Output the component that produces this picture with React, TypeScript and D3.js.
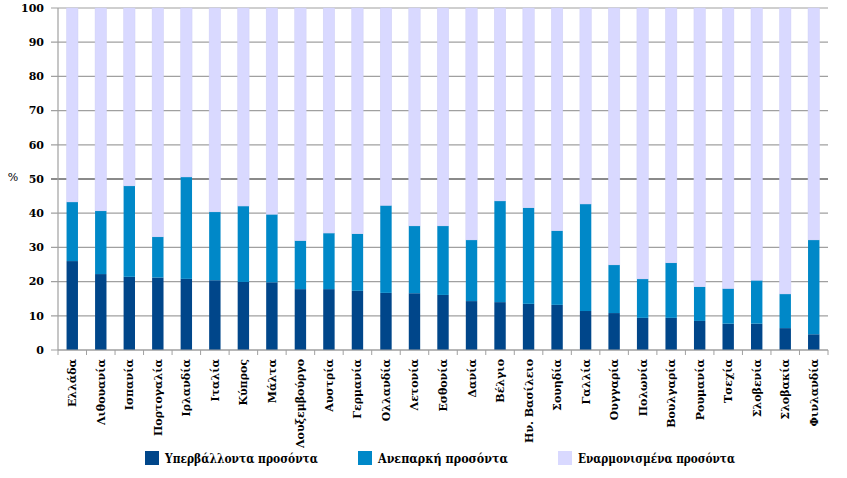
import React from "react";
import * as d3 from "d3";

const countries = ["Ελλάδα","Λιθουανία","Ισπανία","Πορτογαλία","Ιρλανδία","Ιταλία","Κύπρος","Μάλτα","Λουξεμβούργο","Αυστρία","Γερμανία","Ολλανδία","Λετονία","Εσθονία","Δανία","Βέλγιο","Ην. Βασίλειο","Σουηδία","Γαλλία","Ουγγαρία","Πολωνία","Βουλγαρία","Ρουμανία","Τσεχία","Σλοβενία","Σλοβακία","Φινλανδία"];
const overQualified = [26.0,22.2,21.4,21.2,20.8,20.4,19.9,19.8,17.8,17.8,17.3,16.7,16.6,16.1,14.3,14.0,13.5,13.2,11.4,10.8,9.4,9.4,8.5,7.7,7.7,6.4,4.6];
const underQualified = [17.3,18.5,26.6,11.9,29.8,20.0,22.2,19.9,14.2,16.4,16.7,25.6,19.7,20.2,17.9,29.6,28.1,21.7,31.3,14.1,11.4,16.1,10.0,10.3,12.7,10.0,27.6];
const matched = overQualified.map((o, i) => 100 - o - underQualified[i]);
const seriesNames = ["Υπερβάλλοντα προσόντα","Ανεπαρκή προσόντα","Εναρμονισμένα προσόντα"];
const seriesColors = ["#00468A","#0088C8","#D9D9FF"];
const yTicks = [0,10,20,30,40,50,60,70,80,90,100];

const FONT = "'DejaVu Serif', 'Liberation Serif', 'Times New Roman', serif";

export default function App() {
  const W = 847, H = 478;
  const left = 58, right = 828, top = 8, bottom = 350;
  const x = d3.scaleBand<string>().domain(countries).range([left, right]).paddingInner(0.6).paddingOuter(0.3);
  const xb = d3.scaleBand<string>().domain(countries).range([left, right]);
  const y = d3.scaleLinear().domain([0, 100]).range([bottom, top]);
  const data = countries.map((c, i) => ({ c, v: [overQualified[i], underQualified[i], matched[i]] }));
  const stack = d3.stack<any>().keys(["0","1","2"]).value((d, k) => d.v[+k]);
  const stacked = stack(data);
  const ts = (size: number): React.CSSProperties => ({ fontFamily: FONT, fontSize: size, fontWeight: 700 });
  const legendX = [145, 358, 558];
  const legendW = [153, 130, 157];
  return (
    <svg width={W} height={H} style={{ position: "absolute", left: 0, top: 0, background: "#fff" }}>
      {yTicks.map(t => (
        <g key={t}>
          <line x1={51} x2={right} y1={y(t)} y2={y(t)} stroke={t === 50 ? "#8a8a8a" : "#a0a0a0"} strokeWidth={t === 50 ? 2 : 1.2} />
          <text x={44} y={y(t)} dy="0.35em" textAnchor="end" style={ts(11)}>{t}</text>
        </g>
      ))}
      <text x={13} y={181} textAnchor="middle" style={{ fontFamily: FONT, fontSize: 11 }}>%</text>
      {stacked.map((s, si) => (
        <g key={si}>
          {s.map((d, i) => (
            <rect key={i} x={x(countries[i])!} width={x.bandwidth()} y={y(d[1])} height={y(d[0]) - y(d[1])} fill={seriesColors[si]} stroke={si === 2 ? "#cfd0f5" : "none"} strokeWidth={0.5} />
          ))}
        </g>
      ))}
      <line x1={left} x2={left} y1={top} y2={bottom} stroke="#a0a0a0" strokeWidth={1.2} />
      <line x1={left} x2={right} y1={bottom} y2={bottom} stroke="#a0a0a0" strokeWidth={1.2} />
      {countries.map((c, i) => (
        <line key={"t" + i} x1={xb(c)!} x2={xb(c)!} y1={bottom} y2={bottom + 5} stroke="#a0a0a0" />
      ))}
      <line x1={right} x2={right} y1={bottom} y2={bottom + 5} stroke="#a0a0a0" />
      {countries.map((c) => {
        const cx = x(c)! + x.bandwidth() / 2;
        return (
          <text key={"l" + c} transform={`translate(${cx + 4},${359}) rotate(-90)`} textAnchor="end" style={ts(11)}>{c}</text>
        );
      })}
      {seriesNames.map((n, i) => (
        <g key={n}>
          <rect x={legendX[i]} y={451} width={14} height={14} fill={seriesColors[i]} />
          <text x={legendX[i] + 20} y={463} textLength={legendW[i]} lengthAdjust="spacingAndGlyphs" style={ts(13)}>{n}</text>
        </g>
      ))}
    </svg>
  );
}
